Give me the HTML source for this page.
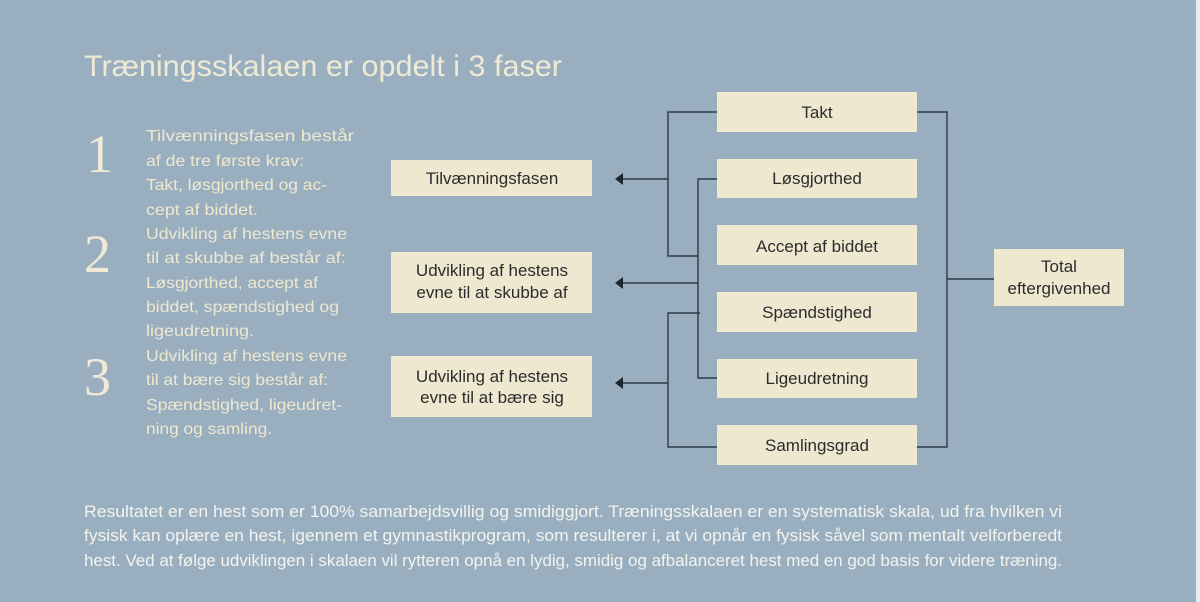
<!DOCTYPE html>
<html><head><meta charset="utf-8"><style>
html,body{margin:0;padding:0;width:1200px;height:602px;overflow:hidden;background:#99afc0}
svg{display:block}
.t{font-family:"Liberation Sans",sans-serif}
</style></head><body>
<svg width="1200" height="602" viewBox="0 0 1200 602" xmlns="http://www.w3.org/2000/svg">
<rect width="1200" height="602" fill="#99afc0"/>
<rect x="1196" y="0" width="4" height="602" fill="#e8edf0"/>
<g class="t" fill="#efe8cf">
<text x="84" y="76" font-size="30" textLength="478" lengthAdjust="spacingAndGlyphs" fill="#f0ead4">Træningsskalaen er opdelt i 3 faser</text>
<g font-family="Liberation Serif,serif" font-size="54" fill="#f0ead4">
<text x="86" y="172">1</text>
<text x="84" y="272">2</text>
<text x="84" y="395">3</text>
</g>
<g font-size="16">
<text x="146" y="141" textLength="208" lengthAdjust="spacingAndGlyphs">Tilvænningsfasen består</text>
<text x="146" y="166" textLength="158" lengthAdjust="spacingAndGlyphs">af de tre første krav:</text>
<text x="146" y="190" textLength="181" lengthAdjust="spacingAndGlyphs">Takt, løsgjorthed og ac-</text>
<text x="146" y="215" textLength="112" lengthAdjust="spacingAndGlyphs">cept af biddet.</text>
<text x="146" y="239" textLength="201" lengthAdjust="spacingAndGlyphs">Udvikling af hestens evne</text>
<text x="146" y="263" textLength="200" lengthAdjust="spacingAndGlyphs">til at skubbe af består af:</text>
<text x="146" y="288" textLength="172" lengthAdjust="spacingAndGlyphs">Løsgjorthed, accept af</text>
<text x="146" y="312" textLength="193" lengthAdjust="spacingAndGlyphs">biddet, spændstighed og</text>
<text x="146" y="336" textLength="108" lengthAdjust="spacingAndGlyphs">ligeudretning.</text>
<text x="146" y="361" textLength="201" lengthAdjust="spacingAndGlyphs">Udvikling af hestens evne</text>
<text x="146" y="385" textLength="182" lengthAdjust="spacingAndGlyphs">til at bære sig består af:</text>
<text x="146" y="410" textLength="196" lengthAdjust="spacingAndGlyphs">Spændstighed, ligeudret-</text>
<text x="146" y="434" textLength="126" lengthAdjust="spacingAndGlyphs">ning og samling.</text>
</g>
<g font-size="16.5" fill="#f3f3f0">
<text x="84" y="517" textLength="978" lengthAdjust="spacingAndGlyphs">Resultatet er en hest som er 100% samarbejdsvillig og smidiggjort. Træningsskalaen er en systematisk skala, ud fra hvilken vi</text>
<text x="84" y="541" textLength="978" lengthAdjust="spacingAndGlyphs">fysisk kan oplære en hest, igennem et gymnastikprogram, som resulterer i, at vi opnår en fysisk såvel som mentalt velforberedt</text>
<text x="84" y="566" textLength="978" lengthAdjust="spacingAndGlyphs">hest. Ved at følge udviklingen i skalaen vil rytteren opnå en lydig, smidig og afbalanceret hest med en god basis for videre træning.</text>
</g>
</g>
<!-- lines -->
<g stroke="#2c3a4a" stroke-width="1.4" fill="none">
<polyline points="717,112 668,112 668,256 698,256"/>
<polyline points="717,179 698,179 698,378 717,378"/>
<polyline points="700,313 668,313 668,447 717,447"/>
<line x1="668" y1="179" x2="622" y2="179"/>
<line x1="698" y1="283" x2="622" y2="283"/>
<line x1="668" y1="383" x2="622" y2="383"/>
<polyline points="917,112 947,112 947,447 917,447"/>
<line x1="947" y1="279" x2="994" y2="279"/>
</g>
<g fill="#1c2530">
<polygon points="615,179 623,173 623,185"/>
<polygon points="615,283 623,277 623,289"/>
<polygon points="615,383 623,377 623,389"/>
</g>
<!-- boxes -->
<g fill="#efe8d1">
<rect x="717" y="92" width="200" height="40"/>
<rect x="717" y="159" width="200" height="39"/>
<rect x="717" y="225" width="200" height="40"/>
<rect x="717" y="292" width="200" height="40"/>
<rect x="717" y="359" width="200" height="39"/>
<rect x="717" y="425" width="200" height="40"/>
<rect x="391" y="160" width="201" height="36"/>
<rect x="391" y="252" width="201" height="61"/>
<rect x="391" y="356" width="201" height="61"/>
<rect x="994" y="249" width="130" height="57"/>
</g>
<g class="t" font-size="17" fill="#2b2b2b" text-anchor="middle">
<text x="817" y="118">Takt</text>
<text x="817" y="184">Løsgjorthed</text>
<text x="817" y="252">Accept af biddet</text>
<text x="817" y="318">Spændstighed</text>
<text x="817" y="384">Ligeudretning</text>
<text x="817" y="451">Samlingsgrad</text>
<text x="492" y="184">Tilvænningsfasen</text>
<text x="492" y="276">Udvikling af hestens</text>
<text x="492" y="298">evne til at skubbe af</text>
<text x="492" y="382">Udvikling af hestens</text>
<text x="492" y="403">evne til at bære sig</text>
<text x="1059" y="272">Total</text>
<text x="1059" y="294">eftergivenhed</text>
</g>
</svg>
</body></html>
